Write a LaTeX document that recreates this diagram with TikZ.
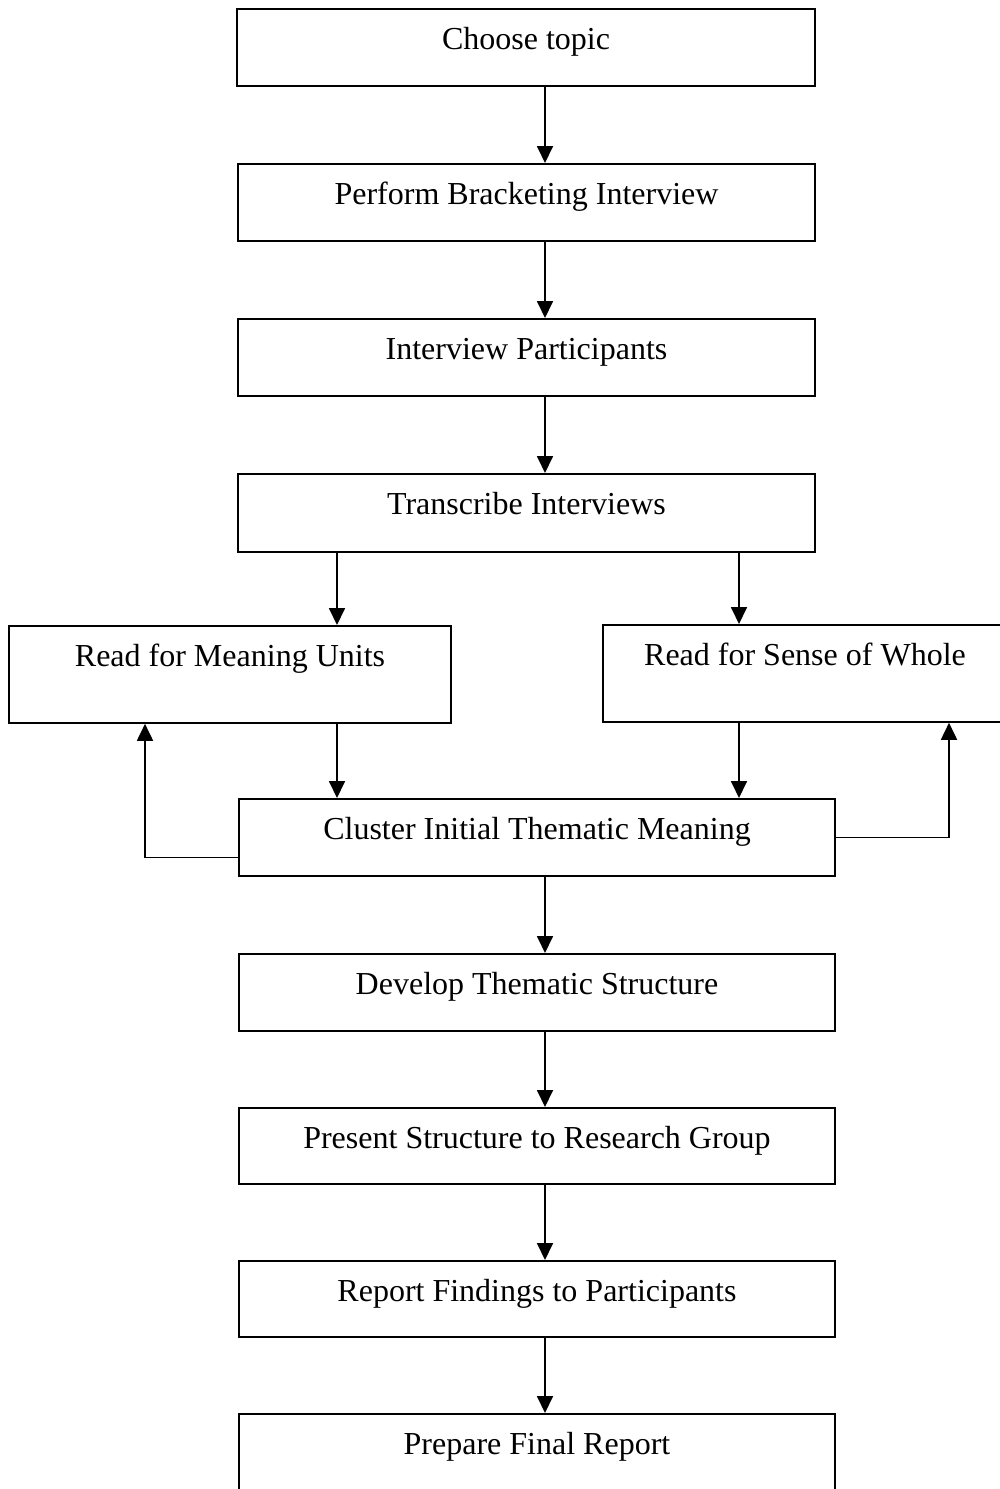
\documentclass[tikz,border=0pt]{standalone}
\usepackage{fontspec}
\setmainfont{Liberation Serif}
\usetikzlibrary{arrows.meta}

\begin{document}
\begin{tikzpicture}[
        x=1pt, y=-1pt,
        line join=miter,
        every node/.style={font=\fontsize{32}{38}\selectfont},
        stepbox/.style={draw, line width=1.8pt, inner sep=0pt, anchor=north,
            text height=41pt, text depth=36pt},
        readbox/.style={stepbox, text depth=56pt},
        flow/.style={line width=1.8pt, -{Triangle[length=17pt,width=16pt]}}
    ]
        \useasboundingbox (0,0) rectangle (1000,1489);
        % Columns for the connectors
        \coordinate (col) at (545,0);
        \coordinate (colL) at (337,0);
        \coordinate (colR) at (739,0);
        \coordinate (loopL) at (145,0);
        \coordinate (loopR) at (949,0);
        % Main steps
        \node[stepbox, minimum width=578pt] (choose) at (526,8) {Choose topic};
        \node[stepbox, minimum width=577pt] (bracket) at (526.5,163) {Perform Bracketing Interview};
        \node[stepbox, minimum width=577pt] (interview) at (526.5,318) {Interview Participants};
        \node[stepbox, minimum width=577pt, text depth=37pt] (transcribe) at (526.5,473) {Transcribe Interviews};
        % Two readings
        \node[readbox, minimum width=442pt] (meaning) at (230,625) {Read for Meaning Units};
        \node[readbox, minimum width=404pt] (whole) at (805,624) {Read for Sense of Whole};
        % Analysis and reporting
        \node[stepbox, minimum width=596pt] (cluster) at (537,798) {Cluster Initial Thematic Meaning};
        \node[stepbox, minimum width=596pt] (develop) at (537,953) {Develop Thematic Structure};
        \node[stepbox, minimum width=596pt, text depth=35pt] (present) at (537,1107) {Present Structure to Research Group};
        \node[stepbox, minimum width=596pt, text depth=35pt] (report) at (537,1260) {Report Findings to Participants};
        \node[stepbox, minimum width=596pt, text depth=40pt] (final) at (537,1413) {Prepare Final Report};
        % Arrows down the middle
        \draw[flow] (col |- choose.south) -- (col |- bracket.north);
        \draw[flow] (col |- bracket.south) -- (col |- interview.north);
        \draw[flow] (col |- interview.south) -- (col |- transcribe.north);
        \draw[flow] (colL |- transcribe.south) -- (colL |- meaning.north);
        \draw[flow] (colR |- transcribe.south) -- (colR |- whole.north);
        \draw[flow] (colL |- meaning.south) -- (colL |- cluster.north);
        \draw[flow] (colR |- whole.south) -- (colR |- cluster.north);
        \draw[flow] (col |- cluster.south) -- (col |- develop.north);
        \draw[flow] (col |- develop.south) -- (col |- present.north);
        \draw[flow] (col |- present.south) -- (col |- report.north);
        \draw[flow] (col |- report.south) -- (col |- final.north);
        % Feedback loops
        \draw[flow] ([yshift=-20pt]cluster.west) -| (loopL |- meaning.south);
        \draw[flow] (cluster.east) -| (loopR |- whole.south);
    \end{tikzpicture}
\end{document}
